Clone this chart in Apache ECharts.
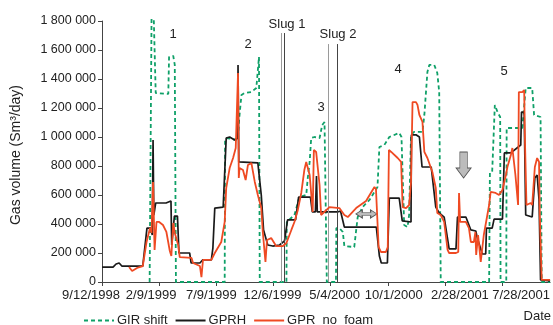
<!DOCTYPE html>
<html>
<head>
<meta charset="utf-8">
<script src="https://cdn.jsdelivr.net/npm/echarts@6.0.0/dist/echarts.min.js"></script>
<style>
  html, body { margin: 0; padding: 0; background: #fff; }
  #chart { width: 553px; height: 325px; }
</style>
</head>
<body>
<div id="chart"></div>
<script>
// days since 9/12/1998, values in 1000 Sm3/day
const girDays = [125, 129, 130, 136, 141, 174, 176, 187, 191, 194, 322, 323, 326, 356, 361, 366, 374, 392, 405, 412,
  414, 484, 485, 505, 518, 536, 540, 545, 549, 558, 571, 578, 584, 588, 590, 614, 615, 623, 632, 636,
  662, 671, 684, 702, 723, 728, 741, 754, 780, 786, 793, 802, 806, 811, 819, 841, 846, 854, 859, 872,
  880, 885, 889, 1016, 1018, 1024, 1031, 1038, 1045, 1046, 1061, 1062, 1103, 1112, 1129, 1134, 1151, 1154, 1176];
const girVals = [0, 0, 1815, 1807, 1303, 1297, 1552, 1559, 1497, 0, 0, 979, 993, 979, 1152, 1290, 1303, 1310, 1338, 1552,
  0, 0, 414, 462, 586, 600, 717, 828, 993, 1000, 993, 1083, 1103, 1097, 0, 0, 372, 372, 345, 248,
  241, 448, 517, 566, 655, 931, 945, 1000, 1028, 1000, 393, 379, 462, 1014, 1035, 1035, 1152, 1448, 1497, 1497,
  1441, 1310, 0, 0, 752, 759, 1221, 1172, 1138, 0, 0, 1062, 1062, 1338, 1338, 1152, 1138, 0, 0];

const gprhDays = [0, 29, 37, 45, 52, 107, 118, 128, 132, 134, 136, 141, 168, 181, 183, 188, 190, 198, 202, 230,
  234, 257, 264, 287, 291, 296, 318, 326, 335, 348, 356, 357, 359, 409, 418, 424, 435, 448, 466, 479,
  487, 508, 516, 547, 552, 560, 563, 565, 618, 626, 636, 720, 728, 733, 749, 754, 780, 788, 811, 812,
  825, 833, 840, 864, 876, 885, 898, 911, 929, 933, 955, 968, 981, 985, 998, 1007, 1009, 1024, 1029, 1051,
  1056, 1073, 1099, 1101, 1108, 1112, 1129, 1136, 1142, 1147, 1151, 1176];
const gprhVals = [103, 103, 124, 131, 110, 110, 372, 372, 324, 979, 462, 545, 545, 559, 255, 255, 455, 455, 200, 200,
  131, 131, 152, 152, 234, 510, 517, 993, 1000, 979, 993, 1497, 828, 821, 600, 359, 255, 248, 255, 283,
  428, 428, 586, 586, 483, 483, 731, 483, 483, 490, 379, 379, 179, 131, 131, 579, 579, 421, 414, 1014,
  1014, 1000, 793, 793, 517, 476, 448, 228, 228, 448, 448, 359, 352, 303, 193, 193, 372, 372, 434, 434,
  890, 890, 945, 1172, 1172, 462, 448, 717, 738, 566, 14, 7];

const noFoamDays = [71, 79, 92, 107, 117, 126, 130, 134, 138, 143, 150, 160, 169, 178, 182, 187, 191, 200, 204, 235,
  239, 257, 261, 265, 287, 296, 313, 322, 326, 335, 344, 351, 357, 359, 361, 370, 377, 383, 392, 401,
  409, 418, 422, 429, 433, 444, 457, 475, 484, 497, 505, 514, 523, 531, 536, 545, 553, 556, 562, 571,
  575, 579, 597, 623, 636, 645, 667, 693, 715, 719, 726, 732, 745, 750, 753, 759, 776, 785, 789, 798,
  806, 811, 815, 824, 828, 833, 841, 846, 854, 867, 876, 880, 889, 898, 907, 911, 929, 935, 937, 940,
  955, 963, 968, 976, 980, 982, 987, 994, 998, 1002, 1016, 1020, 1024, 1033, 1042, 1051, 1060, 1064, 1073, 1077,
  1085, 1092, 1094, 1103, 1108, 1110, 1114, 1125, 1129, 1136, 1142, 1147, 1149, 1154, 1176];
const noFoamVals = [103, 76, 97, 110, 276, 372, 338, 690, 221, 414, 414, 393, 345, 214, 179, 407, 338, 255, 172, 166,
  131, 110, 34, 152, 152, 200, 276, 414, 648, 786, 855, 924, 1441, 717, 786, 772, 703, 807, 821, 690,
  600, 510, 345, 138, 290, 303, 248, 248, 269, 359, 414, 497, 614, 772, 828, 738, 483, 910, 897, 669,
  462, 462, 517, 510, 462, 448, 510, 559, 655, 641, 241, 207, 207, 241, 910, 897, 855, 828, 517, 510,
  531, 690, 1241, 1241, 1221, 1152, 1104, 897, 855, 759, 648, 476, 462, 414, 221, 200, 200, 207, 614, 414,
  414, 372, 276, 276, 345, 186, 324, 138, 131, 324, 531, 621, 634, 614, 600, 634, 738, 793, 876, 924,
  738, 531, 1310, 1310, 1324, 979, 531, 545, 531, 793, 855, 828, 462, 14, 14];

const tickDays = [0, 150, 300, 450, 600, 750, 900, 1050];
const tickLabels = ['9/12/1998', '2/9/1999', '7/9/1999', '12/6/1999', '5/4/2000', '10/1/2000', '2/28/2001', '7/28/2001'];
const labelShift = [-11, -8, -5, -1, 4, 6, 15, 19];

// slug markers: two lines each
const slugDays = [470, 479, 594, 617];
const slugTops = [1717, 1717, 1641, 1641];
const slugColors = ['#9a9a9a', '#444', '#9a9a9a', '#444'];

const FONT = 'Liberation Sans, Arial, Helvetica, sans-serif';
const TXT = '#222';

function pairs(days, vals) {
  return days.map((d, i) => [d, vals[i] * 1000]);
}

const rich = {};
labelShift.forEach((s, i) => {
  rich['o' + i] = {
    fontSize: 13, fontFamily: FONT, color: TXT,
    padding: s < 0 ? [0, -2 * s, 0, 0] : [0, 0, 0, 2 * s]
  };
});

function note(x, y, text) {
  return {
    type: 'text', x: x, y: y,
    style: { text: text, fontSize: 13, fontFamily: FONT, fill: TXT, align: 'center', verticalAlign: 'middle' }
  };
}

const chart = echarts.init(document.getElementById('chart'));

chart.setOption({
  animation: false,
  grid: { left: 102, right: 2, top: 21, bottom: 43 },
  legend: {
    data: ['GIR shift', 'GPRH', 'GPR_no_foam'],
    left: 78, top: 309,
    itemWidth: 30, itemHeight: 12, itemGap: 7,
    itemStyle: { opacity: 0 },
    textStyle: { fontSize: 13, fontFamily: FONT, color: TXT, padding: [0, 0, 3, -2] }
  },
  xAxis: {
    type: 'value', min: 0, max: 1176, interval: 150,
    splitLine: { show: false },
    axisLine: { lineStyle: { color: '#444', width: 1 } },
    axisTick: { show: true, length: 4, customValues: tickDays, lineStyle: { color: '#444' } },
    axisLabel: {
      customValues: tickDays, margin: 7,
      formatter: v => {
        const i = tickDays.indexOf(v);
        return i < 0 ? '' : '{o' + i + '|' + tickLabels[i] + '}';
      },
      rich: rich
    }
  },
  yAxis: {
    type: 'value', min: 0, max: 1800000, interval: 200000,
    splitLine: { show: false },
    axisLine: { show: true, lineStyle: { color: '#444', width: 1 } },
    axisTick: { show: true, length: 4, lineStyle: { color: '#444' } },
    axisLabel: {
      fontSize: 12.5, fontFamily: FONT, color: TXT, margin: 6,
      formatter: v => String(v).replace(/\B(?=(\d{3})+(?!\d))/g, ' ')
    }
  },
  graphic: [
    { type: 'text', x: 16, y: 155, rotation: Math.PI / 2,
      style: { text: 'Gas volume (Sm³/day)', fontSize: 14, fontFamily: FONT, fill: TXT, align: 'center', verticalAlign: 'middle' } },
    { type: 'text', x: 551, y: 316,
      style: { text: 'Date', fontSize: 13, fontFamily: FONT, fill: TXT, align: 'right', verticalAlign: 'middle' } },
    note(173, 34, '1'), note(248, 44, '2'), note(321, 107, '3'), note(398, 69, '4'), note(504, 71, '5'),
    note(287, 24, 'Slug 1'), note(338, 34, 'Slug 2')
  ],
  series: [
    {
      name: 'GIR shift', type: 'line', data: pairs(girDays, girVals),
      showSymbol: false, symbol: 'none', clip: false, z: 3,
      lineStyle: { color: '#0fa068', width: 1.8, type: [4, 3] },
      itemStyle: { color: '#0fa068' }
    },
    {
      name: 'GPRH', type: 'line', data: pairs(gprhDays, gprhVals),
      showSymbol: false, symbol: 'none', z: 4,
      lineStyle: { color: '#1a1a1a', width: 1.7 },
      itemStyle: { color: '#1a1a1a' },
      markLine: {
        silent: true, symbol: ['none', 'none'], label: { show: false },
        data: slugDays.map((d, i) => [
          { coord: [d, 0], lineStyle: { color: slugColors[i], width: 1, type: 'solid' } },
          { coord: [d, slugTops[i] * 1000] }
        ])
      },
      markPoint: {
        silent: true, label: { show: false },
        itemStyle: { color: '#bcbcbc', borderColor: '#555', borderWidth: 0.8 },
        data: [
          { coord: [949, 807000], symbol: 'path://M3,0 L9,0 L9,16 L12,16 L6,26 L0,16 L3,16 Z', symbolSize: [15, 26] },
          { coord: [694, 469000], symbol: 'path://M0,4 L6,0 L6,2.5 L14,2.5 L14,0 L20,4 L14,8 L14,5.5 L6,5.5 L6,8 Z', symbolSize: [21, 8] }
        ]
      }
    },
    {
      name: 'GPR_no_foam', type: 'line', data: pairs(noFoamDays, noFoamVals),
      showSymbol: false, symbol: 'none', z: 5,
      lineStyle: { color: '#ef4a23', width: 1.8 },
      itemStyle: { color: '#ef4a23' }
    }
  ]
});
</script>
</body>
</html>
